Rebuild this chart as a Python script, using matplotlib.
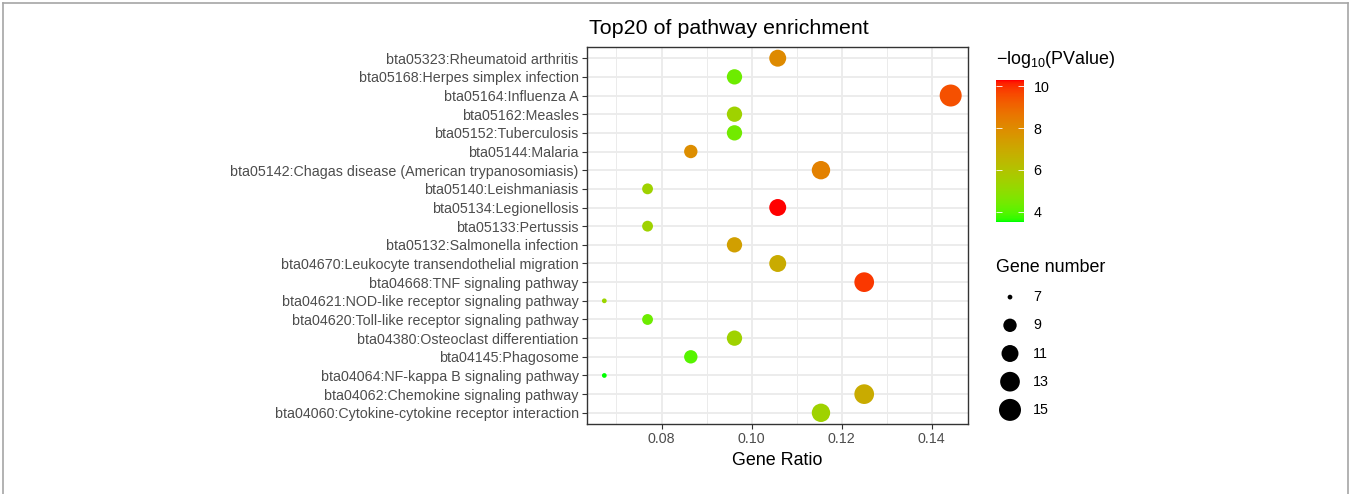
import numpy as np
import matplotlib
matplotlib.use("Agg")
import matplotlib.pyplot as plt
import matplotlib.colors as mcolors
from matplotlib.lines import Line2D

plt.rcParams["font.family"] = ["Liberation Sans", "DejaVu Sans"]
plt.rcParams["mathtext.fontset"] = "custom"
plt.rcParams["mathtext.rm"] = "Liberation Sans"
plt.rcParams["mathtext.it"] = "Liberation Sans:italic"

# ---------------------------------------------------------------------------
# Data (top to bottom as shown)
# ---------------------------------------------------------------------------
pathways = [
    "bta05323:Rheumatoid arthritis",
    "bta05168:Herpes simplex infection",
    "bta05164:Influenza A",
    "bta05162:Measles",
    "bta05152:Tuberculosis",
    "bta05144:Malaria",
    "bta05142:Chagas disease (American trypanosomiasis)",
    "bta05140:Leishmaniasis",
    "bta05134:Legionellosis",
    "bta05133:Pertussis",
    "bta05132:Salmonella infection",
    "bta04670:Leukocyte transendothelial migration",
    "bta04668:TNF signaling pathway",
    "bta04621:NOD-like receptor signaling pathway",
    "bta04620:Toll-like receptor signaling pathway",
    "bta04380:Osteoclast differentiation",
    "bta04145:Phagosome",
    "bta04064:NF-kappa B signaling pathway",
    "bta04062:Chemokine signaling pathway",
    "bta04060:Cytokine-cytokine receptor interaction",
]
gene_number = [11, 10, 15, 10, 10, 9, 12, 8, 11, 8, 10, 11, 13, 7, 8, 10, 9, 7, 13, 12]
gene_ratio = [0.1058, 0.0962, 0.1442, 0.0962, 0.0962, 0.0865, 0.1154, 0.0769, 0.1058, 0.0769,
              0.0962, 0.1058, 0.1250, 0.0673, 0.0769, 0.0962, 0.0865, 0.0673, 0.1250, 0.1154]
neg_log_p = [8.0, 4.3, 9.5, 5.4, 4.4, 7.9, 8.3, 5.4, 10.3, 5.4,
             7.3, 6.9, 9.9, 5.3, 4.3, 5.4, 4.0, 3.5, 6.9, 5.4]

x_ticks = [0.08, 0.10, 0.12, 0.14]
cbar_ticks = [4, 6, 8, 10]
size_breaks = [7, 9, 11, 13, 15]


# ---------------------------------------------------------------------------
# green -> red gradient interpolated in CIELAB (like ggplot)
# ---------------------------------------------------------------------------
M = np.array([[0.4124, 0.3576, 0.1805], [0.2126, 0.7152, 0.0722], [0.0193, 0.1192, 0.9505]])
WHITE = M @ np.ones(3)


def to_lab(c):
    rgb = np.array(mcolors.to_rgb(c))
    lin = np.where(rgb <= 0.04045, rgb / 12.92, ((rgb + 0.055) / 1.055) ** 2.4)
    xyz = (M @ lin) / WHITE
    f = np.where(xyz > 216 / 24389, np.cbrt(xyz), (24389 / 27 * xyz + 16) / 116)
    return np.array([116 * f[1] - 16, 500 * (f[0] - f[1]), 200 * (f[1] - f[2])])


def from_lab(lab):
    fy = (lab[0] + 16) / 116
    fx = fy + lab[1] / 500
    fz = fy - lab[2] / 200
    f = np.array([fx, fy, fz])
    xyz = np.where(f ** 3 > 216 / 24389, f ** 3, (116 * f - 16) / (24389 / 27)) * WHITE
    lin = np.linalg.solve(M, xyz)
    lin = np.clip(lin, 0, 1)
    rgb = np.where(lin <= 0.0031308, 12.92 * lin, 1.055 * lin ** (1 / 2.4) - 0.055)
    return np.clip(rgb, 0, 1)


lo, hi = to_lab("#00FF00"), to_lab("#FF0000")
cmap = mcolors.ListedColormap([from_lab(lo + (hi - lo) * t) for t in np.linspace(0, 1, 256)])
norm = mcolors.Normalize(vmin=min(neg_log_p), vmax=max(neg_log_p))


def marker_area(n):
    # ggplot area scale: size 1..6 over 7..15, plus the point stroke
    lo_n, hi_n = min(size_breaks), max(size_breaks)
    size = 1 + 5 * np.sqrt((np.asarray(n, float) - lo_n) / (hi_n - lo_n))
    d_px = 3.45 * size + 1.3
    return (d_px * 0.72) ** 2


# ---------------------------------------------------------------------------
# Figure
# ---------------------------------------------------------------------------
W, H = 1351, 494
fig = plt.figure(figsize=(W / 100, H / 100), dpi=100)


def box(x0, y0, x1, y1):
    return [x0 / W, 1 - y1 / H, (x1 - x0) / W, (y1 - y0) / H]


ax = fig.add_axes(box(587, 47, 968, 424))
ypos = np.arange(len(pathways))
ax.scatter(gene_ratio, ypos, s=marker_area(gene_number), c=neg_log_p, cmap=cmap, norm=norm,
           linewidths=0, zorder=3)
ax.set_ylim(len(pathways) - 1 + 0.6, -0.6)
span = max(gene_ratio) - min(gene_ratio)
ax.set_xlim(min(gene_ratio) - 0.05 * span, max(gene_ratio) + 0.05 * span)
ax.set_yticks(ypos)
ax.set_yticklabels(pathways)
ax.set_xticks(x_ticks)
ax.set_xticklabels([f"{v:.2f}" for v in x_ticks])
ax.set_xticks([0.07, 0.09, 0.11, 0.13], minor=True)
ax.grid(True, which="major", color="#EBEBEB", lw=1.3, zorder=0)
ax.grid(True, which="minor", axis="x", color="#EBEBEB", lw=0.7, zorder=0)
ax.set_axisbelow(True)
ax.tick_params(which="major", length=3.5, width=0.8, color="#333333", labelsize=10.3,
               labelcolor="#4D4D4D", pad=2.5)
ax.tick_params(which="minor", length=0)
for sp in ax.spines.values():
    sp.set_color("#333333")
    sp.set_linewidth(1.0)
ax.set_xlabel("Gene Ratio", fontsize=12.9, labelpad=4)

fig.text(729 / W, 1 - 28 / H, "Top20 of pathway enrichment", ha="center", va="center",
         fontsize=15.4)

# colour bar
cax = fig.add_axes(box(996, 80, 1024, 222))
cb = fig.colorbar(plt.cm.ScalarMappable(norm=norm, cmap=cmap), cax=cax)
cb.outline.set_visible(False)
cb.set_ticks(cbar_ticks)
cax.tick_params(left=True, right=True, labelleft=False, labelright=True, direction="in",
                length=4, width=0.6, color="white", labelsize=10.3, pad=7)
fig.text(996 / W, 1 - 60 / H, r"$-\mathrm{log}_{10}$(PValue)", ha="left", va="center",
         fontsize=12.9)

# size legend
fig.text(996 / W, 1 - 267 / H, "Gene number", ha="left", va="center", fontsize=12.9)
lax = fig.add_axes(box(996, 283, 1096, 424))
lax.set_axis_off()
lax.set_xlim(0, 1)
lax.set_ylim(len(size_breaks) - 0.5, -0.5)
lax.scatter([0.14] * len(size_breaks), range(len(size_breaks)), s=marker_area(size_breaks),
            color="black", linewidths=0)
for i, b in enumerate(size_breaks):
    lax.text(0.37, i, str(b), ha="left", va="center", fontsize=10.3)

# outer frame
for xs, ys in [([3, 3], [3, H]), ([3, 1348], [3, 3]), ([1348, 1348], [3, H])]:
    fig.add_artist(Line2D([x / W for x in xs], [1 - y / H for y in ys], color="#A6A6A6",
                          lw=1.2, transform=fig.transFigure))

fig.savefig("out.png", dpi=100)
